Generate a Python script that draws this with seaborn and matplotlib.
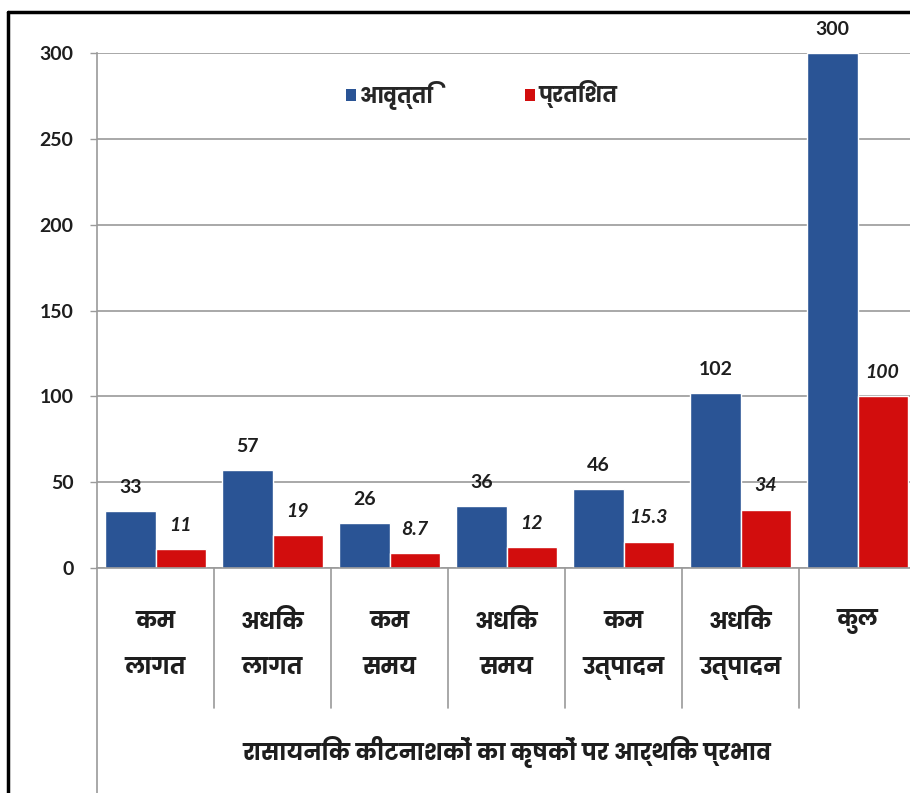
import matplotlib
matplotlib.use("Agg")
import matplotlib.pyplot as plt
import seaborn as sns
import pandas as pd
from matplotlib import font_manager
from matplotlib.ft2font import FT2Font
from matplotlib.patches import Patch
from matplotlib.lines import Line2D

# ---- data ----
categories = ["कम\nलागत", "अधिक\nलागत", "कम\nसमय", "अधिक\nसमय",
              "कम\nउत्पादन", "अधिक\nउत्पादन", "कुल"]
series_names = ["आवृत्ति", "प्रतिशत"]
frequency = [33, 57, 26, 36, 46, 102, 300]
percent = [11, 19, 8.7, 12, 15.3, 34, 100]
y_ticks = [0, 50, 100, 150, 200, 250, 300]
x_title = "रासायनिक कीटनाशकों का कृषकों पर आर्थिक प्रभाव"

BLUE = "#2A5495"
RED = "#D20D0D"
GRID = "#9A9A9A"
INK = "#1E1E1E"

sns.set_theme(style="white")

# find installed faces covering Devanagari; prefer a family with a bold face
deva_fams = {}
for f in font_manager.fontManager.ttflist:
    try:
        if 0x0915 in FT2Font(f.fname).get_charmap():
            w = f.weight if isinstance(f.weight, int) else 400
            deva_fams.setdefault(f.name, []).append(w)
    except Exception:
        pass
deva = None
if deva_fams:
    deva = max(deva_fams, key=lambda n: (max(deva_fams[n]) >= 600, len(deva_fams[n])))
fams = ["Lato"] + ([deva] if deva else []) + ["DejaVu Sans"]
plt.rcParams["font.family"] = fams

df = pd.DataFrame({
    "cat": categories * 2,
    "series": [series_names[0]] * len(categories) + [series_names[1]] * len(categories),
    "value": frequency + percent,
})

fig = plt.figure(figsize=(9.10, 7.93), dpi=100)
ax = fig.add_axes([97 / 910, 225 / 793, 819 / 910, 515 / 793])

sns.barplot(data=df, x="cat", y="value", hue="series", order=categories,
            hue_order=series_names, palette=[BLUE, RED], width=0.855,
            saturation=1, legend=False, ax=ax)

ax.set_xlim(-0.5, len(categories) - 0.5)
ax.set_ylim(0, 300)
ax.set_yticks(y_ticks)
ax.set_yticklabels([str(t) for t in y_ticks], fontsize=14, fontweight="bold",
                   color=INK)
ax.tick_params(axis="y", left=True, length=5, width=1, color=GRID, pad=12)
ax.tick_params(axis="x", bottom=False, labelbottom=False)
ax.set_xlabel("")
ax.set_ylabel("")
ax.yaxis.grid(True, color=GRID, linewidth=1.2)
ax.set_axisbelow(True)
for s in ["top", "right"]:
    ax.spines[s].set_visible(False)
for s in ["left", "bottom"]:
    ax.spines[s].set_color(GRID)
    ax.spines[s].set_linewidth(1.2)

# value labels
ax.bar_label(ax.containers[0], fmt=lambda v: f"{v:g}", padding=11,
             fontsize=14, fontweight="bold", color=INK, clip_on=False)
ax.bar_label(ax.containers[1], fmt=lambda v: f"{v:g}", padding=11,
             fontsize=14, fontweight="bold", fontstyle="italic",
             color=INK, clip_on=False)

# multi-level category axis: separators and labels below the plot
below = -225 / 515
sep_end = -140 / 515
ax.plot([0, 0], [0, below], transform=ax.transAxes, color=GRID,
        linewidth=1.2, clip_on=False)
for i in range(1, len(categories) + 1):
    ax.plot([i - 0.5, i - 0.5], [0, sep_end],
            transform=ax.get_xaxis_transform(), color=GRID,
            linewidth=1.2, clip_on=False)
for i, lab in enumerate(categories):
    for j, part in enumerate(lab.split("\n")):
        ax.text(i, -(53 + 47 * j) / 515, part, transform=ax.get_xaxis_transform(),
                ha="center", va="center", fontsize=16, fontweight="bold",
                color=INK)
ax.text(0.5, -184 / 515, x_title, transform=ax.transAxes, ha="center",
        va="center", fontsize=16, fontweight="bold", color=INK)

# legend
handles = [Patch(facecolor=BLUE, edgecolor="none"),
           Patch(facecolor=RED, edgecolor="none")]
fig.legend(handles, series_names, loc="center", bbox_to_anchor=(482 / 910, 1 - 95 / 793),
           ncol=2, frameon=False, handlelength=0.45, handleheight=0.45,
           handletextpad=0.2, columnspacing=4.4,
           prop={"size": 15, "weight": "bold"})

# outer frame lines
fig.add_artist(Line2D([8 / 910, 8 / 910], [0, 1 - 12 / 793], color="black",
                      linewidth=2.5, transform=fig.transFigure))
fig.add_artist(Line2D([8 / 910, 1], [1 - 12 / 793, 1 - 12 / 793], color="black",
                      linewidth=2.5, transform=fig.transFigure))

fig.savefig("out.png", dpi=100)
